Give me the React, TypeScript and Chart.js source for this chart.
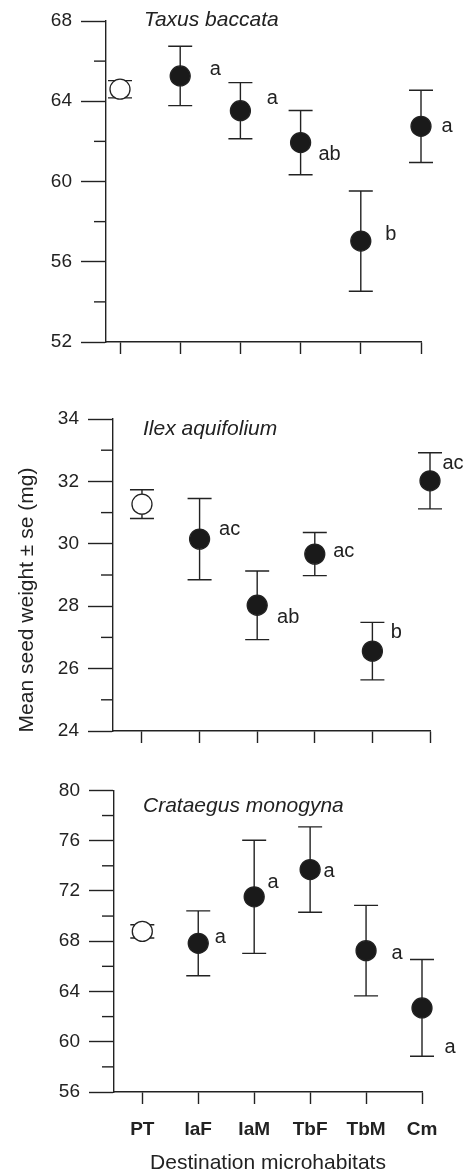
import React, { useEffect, useRef } from 'react';
import { Chart, registerables } from 'chart.js';

Chart.register(...registerables);

// ---------- data ----------
const categories = ['PT', 'IaF', 'IaM', 'TbF', 'TbM', 'Cm'];

const taxusMean = [64.6, 65.26, 63.53, 61.94, 57.03, 62.75];
const taxusSE = [0.43, 1.48, 1.4, 1.6, 2.5, 1.8];
const taxusLetters = ['', 'a', 'a', 'ab', 'b', 'a'];
const taxusYRange = [52, 68];

const ilexMean = [31.27, 30.15, 28.03, 29.67, 26.56, 32.02];
const ilexSE = [0.46, 1.3, 1.1, 0.69, 0.92, 0.9];
const ilexLetters = ['', 'ac', 'ab', 'ac', 'b', 'ac'];
const ilexYRange = [24, 34];

const crataegusMean = [68.78, 67.83, 71.53, 73.7, 67.25, 62.69];
const crataegusSE = [0.53, 2.58, 4.5, 3.4, 3.6, 3.85];
const crataegusLetters = ['', 'a', 'a', 'a', 'a', 'a'];
const crataegusYRange = [56, 80];

const yAxisTitle = 'Mean seed weight ± se (mg)';
const xAxisTitle = 'Destination microhabitats';

// ---------- layout / style ----------
const W = 469;
const INK = '#222222';
const FONT = "'Liberation Sans', Arial, Helvetica, sans-serif";

type Panel = {
  mean: number[];
  se: number[];
  letters: string[];
  yRange: number[];
  majorStep: number;
  minorStep: number;
  title: string;
  titlePos: [number, number];
  top: number;
  height: number;
  area: { left: number; right: number; top: number; bottom: number };
  xMin: number;
  letterOffsets: [number, number][];
  showXLabels: boolean;
  yTitle?: { text: string; x: number; y: number };
  xTitle?: string;
};

const panels: Panel[] = [
  {
    mean: taxusMean,
    se: taxusSE,
    letters: taxusLetters,
    yRange: taxusYRange,
    majorStep: 4,
    minorStep: 2,
    title: 'Taxus baccata',
    titlePos: [144, 20],
    top: 0,
    height: 370,
    area: { left: 106, right: 421, top: 21, bottom: 342 },
    xMin: -0.2326,
    letterOffsets: [[0, 0], [35, -6], [32, -12], [29, 12], [30, -7], [26, 0]],
    showXLabels: false,
  },
  {
    mean: ilexMean,
    se: ilexSE,
    letters: ilexLetters,
    yRange: ilexYRange,
    majorStep: 2,
    minorStep: 1,
    title: 'Ilex aquifolium',
    titlePos: [143, 59],
    top: 370,
    height: 400,
    area: { left: 113, right: 430, top: 49, bottom: 361 },
    xMin: -0.503,
    letterOffsets: [[0, 0], [30, -10], [31, 12], [29, -3], [24, -19], [23, -17]],
    showXLabels: false,
    yTitle: { text: yAxisTitle, x: 27, y: 230 },
  },
  {
    mean: crataegusMean,
    se: crataegusSE,
    letters: crataegusLetters,
    yRange: crataegusYRange,
    majorStep: 4,
    minorStep: 2,
    title: 'Crataegus monogyna',
    titlePos: [143, 36],
    top: 770,
    height: 404,
    area: { left: 114, right: 422, top: 19, bottom: 322 },
    xMin: -0.506,
    letterOffsets: [[0, 0], [22, -6], [19, -14], [19, 2], [31, 3], [28, 40]],
    showXLabels: true,
    xTitle: xAxisTitle,
  },
];

function makePlugin(p: Panel) {
  return {
    id: 'panelDecor',
    beforeDatasetsDraw(chart: any) {
      const ctx = chart.ctx;
      const xs = chart.scales.x;
      const ys = chart.scales.y;
      ctx.save();
      ctx.strokeStyle = INK;
      ctx.lineWidth = 1.4;
      p.mean.forEach((m, i) => {
        const x = xs.getPixelForValue(i);
        const yT = ys.getPixelForValue(m + p.se[i]);
        const yB = ys.getPixelForValue(m - p.se[i]);
        ctx.beginPath();
        ctx.moveTo(x, yT);
        ctx.lineTo(x, yB);
        ctx.moveTo(x - 12, yT);
        ctx.lineTo(x + 12, yT);
        ctx.moveTo(x - 12, yB);
        ctx.lineTo(x + 12, yB);
        ctx.stroke();
      });
      ctx.restore();
    },
    afterDatasetsDraw(chart: any) {
      const ctx = chart.ctx;
      const xs = chart.scales.x;
      const ys = chart.scales.y;
      ctx.save();
      ctx.fillStyle = INK;
      ctx.font = `20px ${FONT}`;
      ctx.textAlign = 'center';
      ctx.textBaseline = 'middle';
      p.letters.forEach((t, i) => {
        if (!t) return;
        const [dx, dy] = p.letterOffsets[i];
        ctx.fillText(t, xs.getPixelForValue(i) + dx, ys.getPixelForValue(p.mean[i]) + dy);
      });
      // species title
      ctx.font = `italic 21px ${FONT}`;
      ctx.textAlign = 'left';
      ctx.fillText(p.title, p.titlePos[0], p.titlePos[1]);
      // minor ticks
      ctx.strokeStyle = INK;
      ctx.lineWidth = 1.4;
      const left = chart.chartArea.left;
      for (let v = p.yRange[0]; v <= p.yRange[1]; v += p.minorStep) {
        if ((v - p.yRange[0]) % p.majorStep === 0) continue;
        const y = ys.getPixelForValue(v);
        ctx.beginPath();
        ctx.moveTo(left - 12, y);
        ctx.lineTo(left, y);
        ctx.stroke();
      }
      if (p.yTitle) {
        ctx.save();
        ctx.translate(p.yTitle.x, p.yTitle.y);
        ctx.rotate(-Math.PI / 2);
        ctx.font = `21px ${FONT}`;
        ctx.textAlign = 'center';
        ctx.textBaseline = 'middle';
        ctx.fillText(p.yTitle.text, 0, 0);
        ctx.restore();
      }
      ctx.restore();
    },
  };
}

function PanelChart({ p }: { p: Panel }) {
  const ref = useRef<HTMLCanvasElement | null>(null);
  useEffect(() => {
    if (!ref.current) return;
    const XH = p.xTitle ? p.height - p.area.bottom : 20;
    const padBottom = p.height - p.area.bottom - XH;
    const chart = new Chart(ref.current, {
      type: 'scatter',
      data: {
        datasets: [
          {
            data: p.mean.map((v, i) => ({ x: i, y: v })),
            showLine: false,
            pointRadius: 10,
            pointHoverRadius: 10,
            pointBackgroundColor: p.mean.map((_, i) => (i === 0 ? '#ffffff' : '#1a1a1a')),
            pointBorderColor: INK,
            pointBorderWidth: 1.3,
            clip: false,
          } as any,
        ],
      },
      options: {
        animation: false,
        responsive: false,
        maintainAspectRatio: false,
        events: [],
        layout: {
          padding: {
            left: 0,
            right: W - p.area.right,
            top: p.area.top,
            bottom: padBottom,
          },
        },
        plugins: {
          legend: { display: false },
          tooltip: { enabled: false },
        },
        scales: {
          x: {
            type: 'linear',
            min: p.xMin,
            max: categories.length - 1,
            afterBuildTicks: (s: any) => {
              s.ticks = categories.map((_, i) => ({ value: i }));
            },
            afterFit: (s: any) => {
              s.height = XH;
              s.paddingLeft = 0;
              s.paddingRight = 0;
            },
            grid: {
              display: true,
              drawOnChartArea: false,
              drawTicks: true,
              tickLength: 12,
              tickColor: INK,
              tickWidth: 1.4,
            },
            border: { display: true, color: INK, width: 1.4 },
            ticks: {
              display: p.showXLabels,
              callback: (v: any) => categories[v as number] ?? '',
              font: { family: FONT, size: 19, weight: 'bold' },
              color: INK,
              padding: 14,
              maxRotation: 0,
              autoSkip: false,
            },
            title: p.xTitle
              ? {
                  display: true,
                  text: p.xTitle,
                  color: INK,
                  font: { family: FONT, size: 21, lineHeight: 1 },
                  padding: { top: 0, bottom: 0 },
                }
              : { display: false },
          },
          y: {
            type: 'linear',
            min: p.yRange[0],
            max: p.yRange[1],
            afterFit: (s: any) => {
              s.width = p.area.left;
            },
            ticks: {
              stepSize: p.majorStep,
              font: { family: FONT, size: 19 },
              color: INK,
              padding: 9,
            },
            grid: {
              display: true,
              drawOnChartArea: false,
              drawTicks: true,
              tickLength: 25,
              tickColor: INK,
              tickWidth: 1.4,
            },
            border: { display: true, color: INK, width: 1.4 },
          },
        },
      } as any,
      plugins: [makePlugin(p)],
    });
    return () => chart.destroy();
  }, [p]);
  return (
    <canvas
      ref={ref}
      width={W}
      height={p.height}
      style={{ position: 'absolute', left: 0, top: p.top, width: W, height: p.height }}
    />
  );
}

export default function App() {
  return (
    <div style={{ position: 'absolute', left: 0, top: 0, width: W, height: 1174, background: '#fff' }}>
      {panels.map((p, i) => (
        <PanelChart key={i} p={p} />
      ))}
    </div>
  );
}
